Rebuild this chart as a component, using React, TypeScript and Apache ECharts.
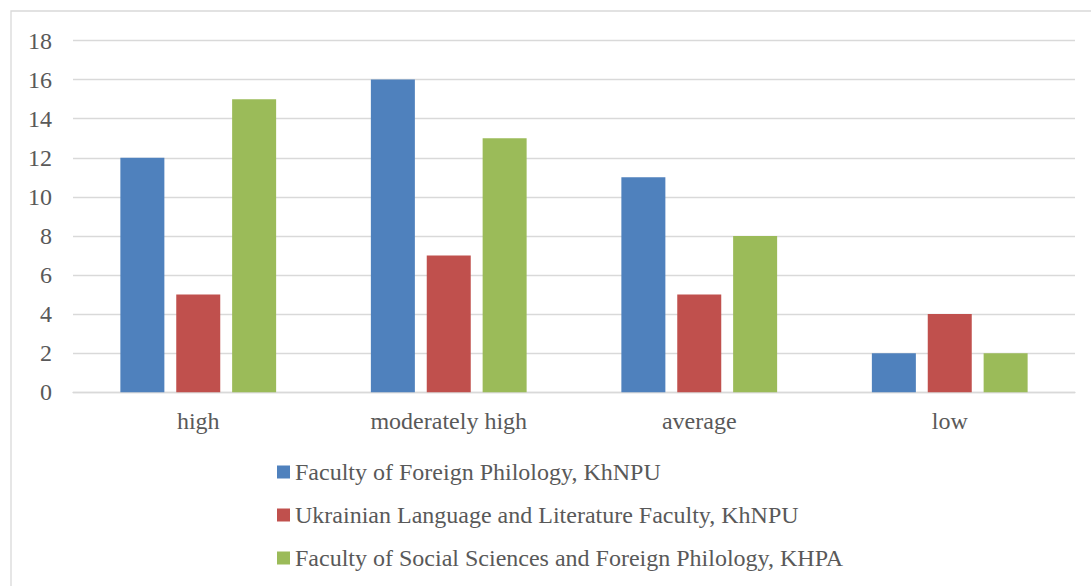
import React, { useEffect, useRef } from "react";
import * as echarts from "echarts";

const categories = ["high", "moderately high", "average", "low"];
const seriesNames = [
  "Faculty of Foreign Philology, KhNPU",
  "Ukrainian Language and Literature Faculty, KhNPU",
  "Faculty of Social Sciences and Foreign Philology, KHPA",
];
const foreignPhilology = [12, 16, 11, 2];
const ukrainianFaculty = [5, 7, 5, 4];
const socialSciences = [15, 13, 8, 2];
const seriesColors = ["#4f81bd", "#c0504d", "#9bbb59"];

const FONT = "Liberation Serif";
const TEXT = "#595959";
const GRID = "#d9d9d9";

export default function App() {
  const ref = useRef<HTMLDivElement>(null);
  useEffect(() => {
    if (!ref.current) return;
    const chart = echarts.init(ref.current, null, { renderer: "svg" });
    const values = [foreignPhilology, ukrainianFaculty, socialSciences];
    chart.setOption({
      animation: false,
      textStyle: { fontFamily: FONT },
      graphic: [
        {
          type: "rect",
          shape: { x: 11, y: 11, width: 1100, height: 600 },
          style: { fill: "none", stroke: GRID, lineWidth: 1.3 },
          silent: true,
        },
      ],
      grid: { left: 73, right: 16, top: 40.5, bottom: 193.7, containLabel: false },
      legend: {
        orient: "vertical",
        left: 277,
        top: 460,
        padding: 0,
        itemWidth: 13,
        itemHeight: 13,
        itemGap: 19,
        icon: "rect",
        textStyle: { fontFamily: FONT, fontSize: 24, color: TEXT, padding: [0, 0, 0, 0] },
        data: seriesNames,
      },
      xAxis: {
        type: "category",
        data: categories,
        axisTick: { show: false },
        axisLine: { lineStyle: { color: GRID, width: 1.3 } },
        axisLabel: { fontFamily: FONT, fontSize: 24, color: TEXT, margin: 17 },
      },
      yAxis: {
        type: "value",
        min: 0,
        max: 18,
        interval: 2,
        axisLine: { show: false },
        axisTick: { show: false },
        splitLine: { lineStyle: { color: GRID, width: 1.3 } },
        axisLabel: { fontFamily: FONT, fontSize: 24, color: TEXT, margin: 21 },
      },
      series: seriesNames.map((name, i) => ({
        name,
        type: "bar",
        data: values[i],
        barWidth: 44,
        barGap: "27%",
        itemStyle: { color: seriesColors[i] },
      })),
    });
    return () => chart.dispose();
  }, []);
  return (
    <div
      ref={ref}
      style={{ position: "absolute", left: 0, top: 0, width: 1091, height: 586, background: "#fff" }}
    />
  );
}
